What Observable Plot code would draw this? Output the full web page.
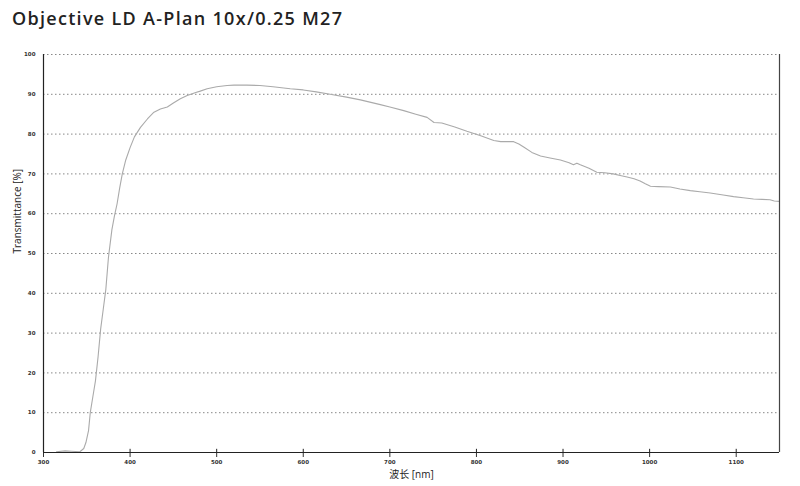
<!DOCTYPE html>
<html>
<head>
<meta charset="utf-8">
<script src="https://cdn.jsdelivr.net/npm/d3@7"></script>
<script src="https://cdn.jsdelivr.net/npm/@observablehq/plot@0.6"></script>
<style>
  body { margin: 0; background: #fff; }
  #title { font-family: "Open Sans", sans-serif; font-weight: 600; font-size: 18px; letter-spacing: 1.3px; color: #222; height: 40px; line-height: 36px; padding-left: 12px; box-sizing: border-box; }
  #chart svg { display: block; }
</style>
</head>
<body>
<div id="title">Objective LD A-Plan 10x/0.25 M27</div>
<div id="chart"></div>
<script>
const wavelength = [315,325,332,342,346.5,349,352,354,357,360,363,366,369,372,375,379,382,385,388,391,395,400,405,412,420,427,435,443,450,458,466,475,481,489,500,512,520,535,550,565,585,600,615,631,650,666,689,700,716,730,743,751,760,775,789,805,820,828,843,849,855,864,874,885,897,907,912,916,920,930,939,948,958,966,974,982,989,995,1001,1010,1024,1035,1047,1058,1070,1085,1097,1108,1120,1130,1139,1144,1150];
const transmittance = [0.2,0.4,0.3,0.2,1,2.5,5.5,10,14,18,24,31,36,41,49,56,59.5,62.5,66.5,70,73.5,76.6,79.3,81.7,83.8,85.4,86.3,86.8,87.8,88.9,89.7,90.4,90.8,91.4,91.9,92.2,92.3,92.3,92.2,91.9,91.4,91.1,90.6,90.0,89.3,88.6,87.4,86.8,85.9,85.0,84.2,82.9,82.8,81.8,80.7,79.6,78.4,78.1,78.1,77.5,76.7,75.4,74.5,74.0,73.5,72.8,72.3,72.7,72.3,71.4,70.4,70.3,70.0,69.6,69.2,68.8,68.2,67.5,66.9,66.8,66.7,66.2,65.8,65.5,65.2,64.7,64.3,64.0,63.7,63.6,63.5,63.2,63.1];
const xTicks = [300,400,500,600,700,800,900,1000,1100];
const yTicks = [0,10,20,30,40,50,60,70,80,90,100];
const xLabel = "波长 [nm]";
const yLabel = "Transmittance [%]";

const data = wavelength.map((w, i) => ({w, t: transmittance[i]}));

const chart = Plot.plot({
  width: 800,
  height: 446,
  marginTop: 14,
  marginBottom: 34,
  marginLeft: 43,
  marginRight: 21,
  style: {fontFamily: "DejaVu Sans, sans-serif", background: "#fff", color: "#333"},
  x: {domain: [300, 1150]},
  y: {domain: [0, 100]},
  marks: [
    Plot.ruleY(yTicks.filter(d => d > 0), {stroke: "#888", strokeDasharray: "1.5,2.5", strokeWidth: 1}),
    Plot.line(data, {x: "w", y: "t", stroke: "#aaa", strokeWidth: 1.1}),
    Plot.axisY({ticks: yTicks, tickSize: 6, tickPadding: 2, fontSize: 5.5, fontWeight: "bold", stroke: null, label: null}),
    Plot.axisX({ticks: xTicks, tickFormat: "d", tickSize: 5, tickPadding: 3, fontSize: 5.5, fontWeight: "bold", label: null}),
    Plot.ruleX(xTicks, {x: d => d, y1: 0, y2: 0.8, stroke: "#222"}),
    Plot.ruleX([300], {y1: 0, y2: 100, stroke: "#222", strokeWidth: 1.2}),
    Plot.ruleX([1150], {y1: 0, y2: 100, stroke: "#444", strokeWidth: 1.2}),
    Plot.ruleY([0], {stroke: "#222", strokeWidth: 1.2}),
    Plot.text([yLabel], {frameAnchor: "left", dx: -26, rotate: -90, fontSize: 10, fontFamily: "Open Sans, sans-serif", fill: "#222"}),
    Plot.text([xLabel], {frameAnchor: "bottom", dy: 25, fontSize: 10, fontFamily: "Open Sans, Noto Sans CJK SC, sans-serif", fill: "#222"})
  ]
});
document.getElementById("chart").appendChild(chart);
</script>
</body>
</html>
